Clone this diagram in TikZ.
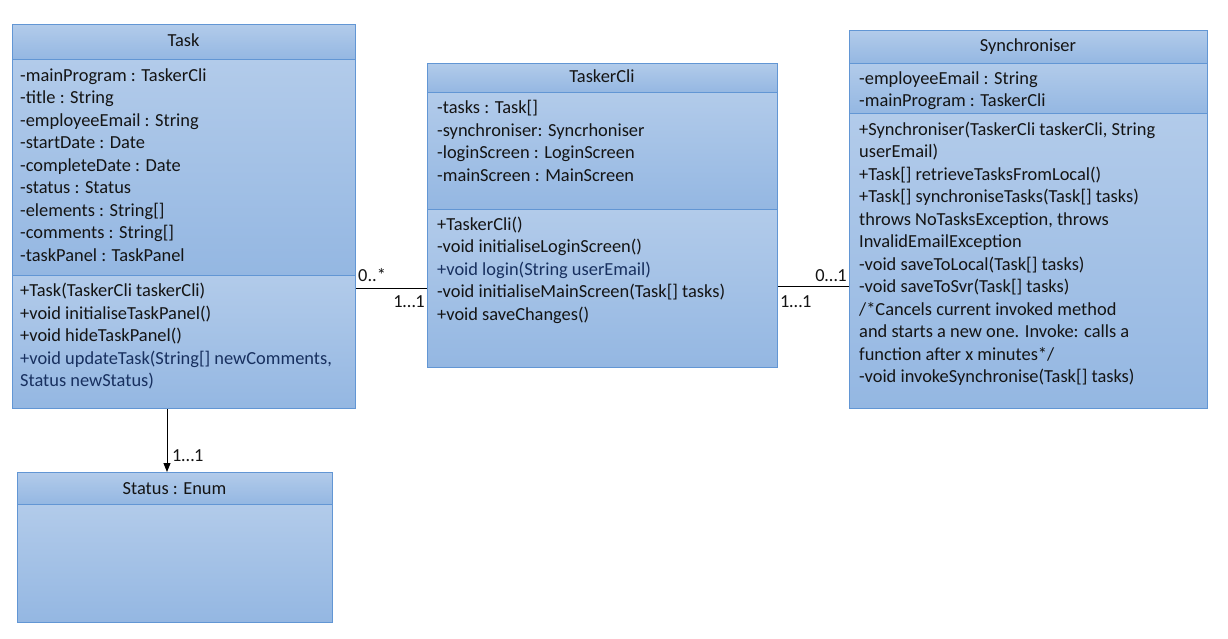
\documentclass[tikz,border=0pt]{standalone}
\usepackage{fontspec}
\setmainfont{Carlito}
\usetikzlibrary{arrows.meta}

\definecolor{boxtop}{HTML}{B2CBEA}
\definecolor{boxbot}{HTML}{94B7E2}
\definecolor{boxline}{HTML}{6296D4}
\definecolor{navy}{HTML}{18305F}
\definecolor{ink}{HTML}{141414}

\newcommand\umlfont{\fontsize{18.4}{22.5}\selectfont}
\newcommand\fs{\rule{0pt}{17pt}}

\tikzset{
  comp/.style={draw=boxline, line width=1pt, top color=boxtop, bottom color=boxbot,
               inner sep=0pt, anchor=north west, rectangle},
  title/.style={anchor=base, inner sep=0pt, font=\umlfont, text=ink},
  members/.style={anchor=north west, inner sep=0pt, align=left, font=\umlfont, text=ink},
  mult/.style={inner sep=0pt, font=\umlfont, text=ink},
  link/.style={line width=1pt, black},
}

\begin{document}
\begin{tikzpicture}[x=1pt, y=-1pt]
\fill[white] (0,0) rectangle (1228,639);
\useasboundingbox (0,0) rectangle (1228,639);

% ---- Task ----
\node[comp, minimum width=343pt, minimum height=35pt]  (taskH) at (12,24)  {};
\node[comp, minimum width=343pt, minimum height=216pt] (taskA) at (12,59)  {};
\node[comp, minimum width=343pt, minimum height=133pt] (taskM) at (12,275) {};
\node[title] (taskT) at (183.5,47) {Task};
\node[members] (taskAt) at (20,64) {\fs-mainProgram : TaskerCli\\
-title : String\\
-employeeEmail : String\\
-startDate : Date\\
-completeDate : Date\\
-status : Status\\
-elements : String[]\\
-comments : String[]\\
-taskPanel : TaskPanel};
\node[members] (taskMt) at (20,279.5) {\fs+Task(TaskerCli taskerCli)\\
+void initialiseTaskPanel()\\
+void hideTaskPanel()\\
\textcolor{navy}{+void updateTask(String[] newComments,}\\
\textcolor{navy}{Status newStatus)}};

% ---- TaskerCli ----
\node[comp, minimum width=350pt, minimum height=29pt]  (cliH) at (427,63)  {};
\node[comp, minimum width=350pt, minimum height=117pt] (cliA) at (427,92)  {};
\node[comp, minimum width=350pt, minimum height=158pt] (cliM) at (427,209) {};
\node[title] (cliT) at (602,83) {TaskerCli};
\node[members] (cliAt) at (437,96.5) {\fs-tasks : Task[]\\
-synchroniser: Syncrhoniser\\
-loginScreen : LoginScreen\\
-mainScreen : MainScreen};
\node[members] (cliMt) at (437,213) {\fs+TaskerCli()\\
-void initialiseLoginScreen()\\
\textcolor{navy}{+void login(String userEmail)}\\
-void initialiseMainScreen(Task[] tasks)\\
+void saveChanges()};

% ---- Synchroniser ----
\node[comp, minimum width=358pt, minimum height=33pt]  (syncH) at (849,30)  {};
\node[comp, minimum width=358pt, minimum height=50pt]  (syncA) at (849,63)  {};
\node[comp, minimum width=358pt, minimum height=295pt] (syncM) at (849,113) {};
\node[title] (syncT) at (1028,52) {Synchroniser};
\node[members] (syncAt) at (859,67) {\fs-employeeEmail : String\\
-mainProgram : TaskerCli};
\node[members] (syncMt) at (859,118) {\fs+Synchroniser(TaskerCli taskerCli, String\\
userEmail)\\
+Task[] retrieveTasksFromLocal()\\
+Task[] synchroniseTasks(Task[] tasks)\\
throws NoTasksException, throws\\
InvalidEmailException\\
-void saveToLocal(Task[] tasks)\\
-void saveToSvr(Task[] tasks)\\
/*Cancels current invoked method\\
and starts a new one. Invoke: calls a\\
function after x minutes*/\\
-void invokeSynchronise(Task[] tasks)};

% ---- Status ----
\node[comp, minimum width=315pt, minimum height=32pt]  (statH) at (17,472) {};
\node[comp, minimum width=315pt, minimum height=118pt] (statM) at (17,504) {};
\node[title] (statT) at (174.5,494) {Status : Enum};

% ---- associations ----
\coordinate (rowL) at (0,288);
\coordinate (rowR) at (0,286);
\coordinate (colS) at (167,0);
\draw[link] (taskM.east |- rowL) -- (cliM.west |- rowL);
\draw[link] (cliM.east |- rowR) -- (syncM.west |- rowR);
\draw[link, -{Triangle[length=9pt,width=7pt]}] (taskM.south -| colS) -- (statH.north -| colS);

\node[mult, anchor=base west] (mA) at (358,281) {0..*};
\node[mult, anchor=base east] (mB) at (425,307) {1…1};
\node[mult, anchor=base east] (mC) at (847,281) {0…1};
\node[mult, anchor=base west] (mD) at (780,307) {1…1};
\node[mult, anchor=base west] (mE) at (172,461) {1…1};
\end{tikzpicture}
\end{document}
